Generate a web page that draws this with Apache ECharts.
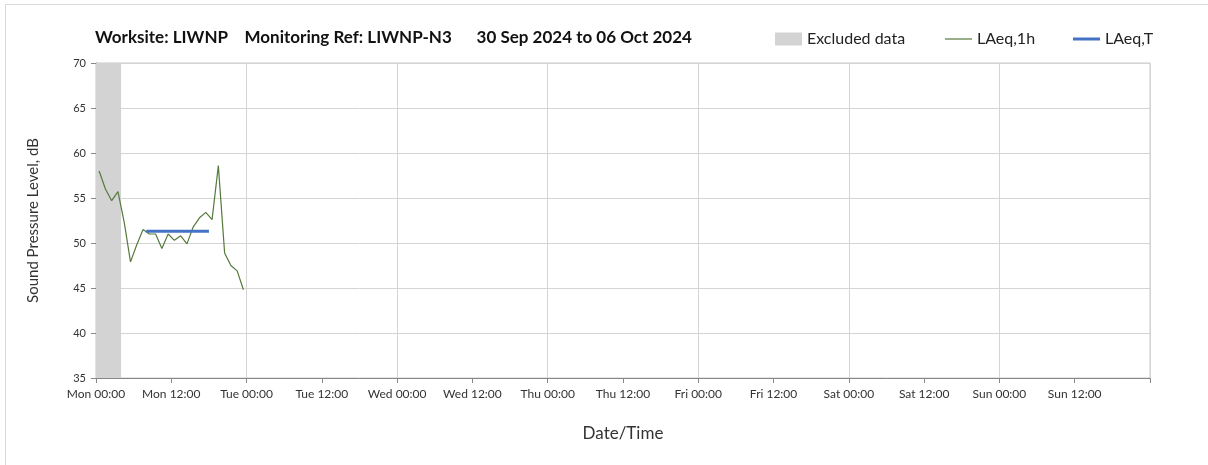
<!DOCTYPE html>
<html>
<head>
<meta charset="utf-8">
<script src="https://cdn.jsdelivr.net/npm/echarts@6/dist/echarts.min.js"></script>
<style>
  html, body { margin: 0; padding: 0; background: #fff; }
  #frame { position: absolute; left: 5px; top: 4px; width: 1300px; height: 600px; border: 1px solid #d9d9d9; }
  #chart { position: absolute; left: 0; top: 0; width: 1208px; height: 465px; }
</style>
</head>
<body>
<div id="frame"></div>
<div id="chart"></div>
<script>
// hours since Mon 30 Sep 2024 00:00
const hours = [0.5, 1.5, 2.5, 3.5, 4.5, 5.5, 6.5, 7.5, 8.5, 9.5, 10.5, 11.5,
               12.5, 13.5, 14.5, 15.5, 16.5, 17.5, 18.5, 19.5, 20.5, 21.5, 22.5, 23.5];
const laeq1h = [58.0, 56.0, 54.7, 55.7, 52.3, 47.9, 49.8, 51.5, 51.0, 51.0, 49.4, 51.0,
                50.3, 50.8, 49.9, 51.8, 52.8, 53.4, 52.6, 58.6, 48.9, 47.5, 46.9, 44.8];
const laeqT = 51.3;
const periodT = [8, 18];
const excluded = [0, 4];
const dayNames = ['Mon', 'Tue', 'Wed', 'Thu', 'Fri', 'Sat', 'Sun'];

const font = 'Lato, "Open Sans", sans-serif';
const chart = echarts.init(document.getElementById('chart'));

const legendBase = {
    top: 31,
    padding: 0,
    itemWidth: 27,
    textStyle: { fontFamily: font, fontSize: 16, color: '#222' },
    selectedMode: false
};

chart.setOption({
    animation: false,
    title: {
        text: 'Worksite: LIWNP    Monitoring Ref: LIWNP-N3      30 Sep 2024 to 06 Oct 2024',
        left: 95,
        top: 29,
        padding: 0,
        textStyle: { fontFamily: font, fontSize: 17, fontWeight: 'bold', color: '#111' }
    },
    legend: [
        Object.assign({}, legendBase, { left: 775, itemHeight: 13, data: [{ name: 'Excluded data', icon: 'rect' }] }),
        Object.assign({}, legendBase, { left: 945, itemHeight: 1.2, data: [{ name: 'LAeq,1h', icon: 'rect' }] }),
        Object.assign({}, legendBase, { left: 1073, itemHeight: 3, data: [{ name: 'LAeq,T', icon: 'rect' }] })
    ],
    grid: {
        left: 96, right: 58, top: 63, bottom: 87,
        show: true, borderColor: '#c8c8c8', borderWidth: 1
    },
    xAxis: [
        {
            type: 'value',
            min: 0, max: 168, interval: 12,
            name: 'Date/Time',
            nameLocation: 'middle',
            nameGap: 47,
            nameTextStyle: { fontFamily: font, fontSize: 17, color: '#333' },
            axisLine: { lineStyle: { color: '#888' } },
            axisTick: { length: 5, lineStyle: { color: '#888' } },
            axisLabel: {
                fontFamily: font, fontSize: 12, color: '#333', margin: 10,
                formatter: v => v >= 168 ? '' : dayNames[Math.floor(v / 24)] + (v % 24 === 0 ? ' 00:00' : ' 12:00')
            },
            splitLine: { show: false }
        },
        {
            type: 'value',
            min: 0, max: 168, interval: 24,
            position: 'bottom',
            axisLine: { show: false },
            axisTick: { show: false },
            axisLabel: { show: false },
            splitLine: { show: true, lineStyle: { color: '#d4d4d4' } }
        }
    ],
    yAxis: {
        type: 'value',
        min: 35, max: 70, interval: 5,
        name: 'Sound Pressure Level, dB',
        nameLocation: 'middle',
        nameGap: 55,
        nameTextStyle: { fontFamily: font, fontSize: 15, color: '#333' },
        axisLine: { show: true, lineStyle: { color: '#888' } },
        axisTick: { show: true, length: 5, lineStyle: { color: '#888' } },
        axisLabel: { fontFamily: font, fontSize: 11, color: '#333', margin: 10 },
        splitLine: { lineStyle: { color: '#d4d4d4' } }
    },
    series: [
        {
            name: 'Excluded data',
            type: 'line',
            data: [],
            itemStyle: { color: '#d3d3d3' },
            markArea: {
                silent: true,
                itemStyle: { color: '#d3d3d3' },
                data: [[{ xAxis: excluded[0] }, { xAxis: excluded[1] }]]
            }
        },
        {
            name: 'LAeq,1h',
            type: 'line',
            symbol: 'none',
            data: hours.map((h, i) => [h, laeq1h[i]]),
            itemStyle: { color: '#557a3c' },
            lineStyle: { color: '#557a3c', width: 1.2 },
            z: 3
        },
        {
            name: 'LAeq,T',
            type: 'line',
            symbol: 'none',
            data: periodT.map(h => [h, laeqT]),
            itemStyle: { color: '#4472c4' },
            lineStyle: { color: '#4472c4', width: 3 },
            z: 4
        }
    ]
});
</script>
</body>
</html>
